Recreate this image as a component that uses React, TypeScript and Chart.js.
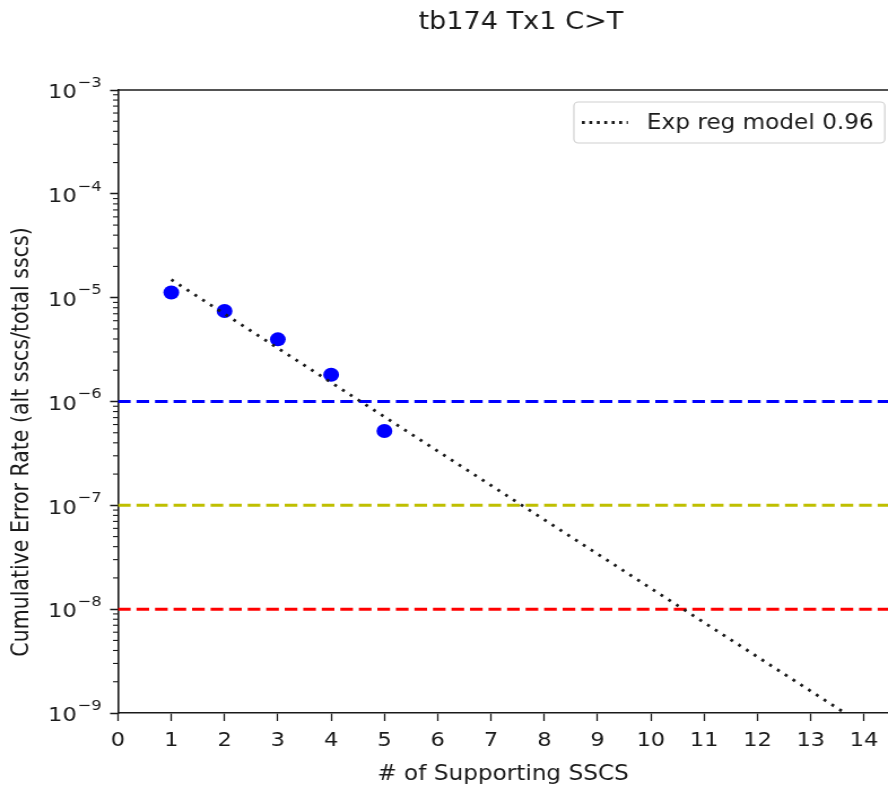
import React, { useEffect, useRef } from 'react';
import { Chart, registerables } from 'chart.js';

Chart.register(...registerables);

// ---- data ----
const supportX = [1, 2, 3, 4, 5];
const errorRate = [1.12e-5, 7.45e-6, 3.97e-6, 1.81e-6, 5.2e-7];
const fitX = [1, 14];
const fitY = [1.49e-5, 7.6e-10];
const thresholdValues = [1e-6, 1e-7, 1e-8];
const thresholdColors = ['#0000ff', '#bfbf00', '#ff0000'];
const xTicks = [0, 1, 2, 3, 4, 5, 6, 7, 8, 9, 10, 11, 12, 13, 14];
const xRange = [0, 14.45];
const yMajorExponents = [-9, -8, -7, -6, -5, -4, -3];
const yMinorMultipliers = [2, 3, 4, 5, 6, 7, 8, 9];
const titleText = 'tb174 Tx1 C>T';
const xLabel = '# of Supporting SSCS';
const yLabel = 'Cumulative Error Rate (alt sscs/total sscs)';
const legendLabel = 'Exp reg model 0.96';

// the reference figure is stretched horizontally; render narrower and stretch with CSS
const VIEW_W = 888;
const VIEW_H = 789;
const SX = 1.13;
const CANVAS_W = Math.round(VIEW_W / SX);

const FAMILY = "'DejaVu Sans', 'Liberation Sans', sans-serif";
const INK = '#1a1a1a';

const overlayPlugin = {
  id: 'overlay',
  afterDraw(chart: any) {
    const { ctx, chartArea, scales } = chart;
    const ys = scales.y;
    ctx.save();

    // top spine
    ctx.strokeStyle = INK;
    ctx.lineWidth = 1.6;
    ctx.beginPath();
    ctx.moveTo(chartArea.left, chartArea.top);
    ctx.lineTo(chartArea.right + 2, chartArea.top);
    ctx.stroke();

    // minor ticks on log axis
    ctx.lineWidth = 1.1;
    for (let i = 0; i < yMajorExponents.length - 1; i++) {
      const base = Math.pow(10, yMajorExponents[i]);
      for (const m of yMinorMultipliers) {
        const py = ys.getPixelForValue(m * base);
        ctx.beginPath();
        ctx.moveTo(chartArea.left - 4.4, py);
        ctx.lineTo(chartArea.left, py);
        ctx.stroke();
      }
    }

    // y tick labels as 10^n
    ctx.fillStyle = INK;
    ctx.textBaseline = 'middle';
    const right = chartArea.left - 14.5;
    for (const e of yMajorExponents) {
      const py = ys.getPixelForValue(Math.pow(10, e));
      const expStr = '\u2212' + String(Math.abs(e));
      ctx.font = `14.5px ${FAMILY}`;
      ctx.textAlign = 'right';
      const ew = ctx.measureText(expStr).width;
      ctx.fillText(expStr, right, py - 7);
      ctx.font = `20px ${FAMILY}`;
      ctx.fillText('10', right - ew - 0.5, py + 3);
    }

    // title
    ctx.font = `24px ${FAMILY}`;
    ctx.textAlign = 'center';
    ctx.textBaseline = 'middle';
    ctx.fillText(titleText, 521 / SX, 23);

    // y label
    ctx.save();
    ctx.translate(22 / SX, 442);
    ctx.rotate(-Math.PI / 2);
    ctx.font = `20.5px ${FAMILY}`;
    ctx.textAlign = 'center';
    ctx.textBaseline = 'middle';
    ctx.fillText(yLabel, 0, 0);
    ctx.restore();

    // legend
    const bx = 574 / SX, by = 102, bw = 311 / SX, bh = 41, r = 4;
    ctx.beginPath();
    ctx.moveTo(bx + r, by);
    ctx.lineTo(bx + bw - r, by);
    ctx.arcTo(bx + bw, by, bx + bw, by + r, r);
    ctx.lineTo(bx + bw, by + bh - r);
    ctx.arcTo(bx + bw, by + bh, bx + bw - r, by + bh, r);
    ctx.lineTo(bx + r, by + bh);
    ctx.arcTo(bx, by + bh, bx, by + bh - r, r);
    ctx.lineTo(bx, by + r);
    ctx.arcTo(bx, by, bx + r, by, r);
    ctx.closePath();
    ctx.fillStyle = 'rgba(255,255,255,0.85)';
    ctx.fill();
    ctx.strokeStyle = '#d0d0d0';
    ctx.lineWidth = 1.2;
    ctx.stroke();

    const fitDs = chart.data.datasets[0];
    ctx.strokeStyle = fitDs.borderColor;
    ctx.lineWidth = fitDs.borderWidth;
    ctx.setLineDash([2.6, 4]);
    ctx.beginPath();
    ctx.moveTo(582 / SX, by + bh / 2);
    ctx.lineTo(628 / SX, by + bh / 2);
    ctx.stroke();
    ctx.setLineDash([]);

    ctx.fillStyle = INK;
    ctx.font = `20.5px ${FAMILY}`;
    ctx.textAlign = 'left';
    ctx.textBaseline = 'middle';
    ctx.fillText(fitDs.label, 647 / SX, by + bh / 2 + 1);

    ctx.restore();
  },
};

export default function App() {
  const ref = useRef<HTMLCanvasElement | null>(null);

  useEffect(() => {
    const canvas = ref.current;
    if (!canvas) return;

    const datasets: any[] = [
      {
        label: legendLabel,
        data: fitX.map((x, i) => ({ x, y: fitY[i] })),
        showLine: true,
        borderColor: '#1a1a1a',
        borderWidth: 2.8,
        borderDash: [2.6, 5.9],
        pointRadius: 0,
        fill: false,
        clip: 0,
        order: 0,
      },
      {
        label: 'data',
        data: supportX.map((x, i) => ({ x, y: errorRate[i] })),
        showLine: false,
        pointRadius: 7,
        pointHoverRadius: 7,
        backgroundColor: '#0000ff',
        borderWidth: 0,
        order: 1,
      },
      ...thresholdValues.map((v, i) => ({
        label: 'threshold ' + v,
        data: [
          { x: xRange[0], y: v },
          { x: xRange[1], y: v },
        ],
        showLine: true,
        borderColor: thresholdColors[i],
        borderWidth: 3,
        borderDash: [11.2, 5.2],
        pointRadius: 0,
        fill: false,
        clip: 0,
        order: 2,
      })),
    ];

    const borderOpts = { display: true, color: INK, width: 1.6 };

    const chart = new Chart(canvas, {
      type: 'scatter',
      data: { datasets },
      options: {
        animation: false,
        responsive: false,
        events: [],
        layout: { autoPadding: false, padding: { top: 90, right: 0, bottom: 0, left: 0 } },
        plugins: {
          legend: { display: false },
          tooltip: { enabled: false },
          title: { display: false },
        },
        scales: {
          x: {
            type: 'linear',
            min: xRange[0],
            max: xRange[1],
            afterBuildTicks: (s: any) => {
              s.ticks = xTicks.map((v) => ({ value: v }));
            },
            afterFit: (s: any) => {
              s.height = 76;
              s.paddingLeft = 0;
              s.paddingRight = 0;
            },
            grid: {
              drawOnChartArea: false,
              drawTicks: true,
              tickLength: 8,
              tickColor: INK,
              tickWidth: 1.3,
            },
            border: borderOpts,
            ticks: {
              font: { family: FAMILY, size: 20 },
              color: INK,
              padding: 8,
              maxRotation: 0,
              autoSkip: false,
            },
            title: {
              display: true,
              text: xLabel,
              font: { family: FAMILY, size: 20.5 },
              color: INK,
              padding: { top: 0, bottom: 2 },
            },
          },
          y: {
            type: 'logarithmic',
            min: Math.pow(10, yMajorExponents[0]),
            max: Math.pow(10, yMajorExponents[yMajorExponents.length - 1]),
            afterBuildTicks: (s: any) => {
              s.ticks = yMajorExponents.map((e) => ({ value: Math.pow(10, e) }));
            },
            afterFit: (s: any) => {
              s.width = 118 / SX;
              s.paddingTop = 0;
              s.paddingBottom = 0;
            },
            grid: {
              drawOnChartArea: false,
              drawTicks: true,
              tickLength: 7,
              tickColor: INK,
              tickWidth: 1.5,
            },
            border: borderOpts,
            ticks: { display: false },
          },
        },
      } as any,
      plugins: [overlayPlugin],
    });

    return () => chart.destroy();
  }, []);

  return (
    <div
      style={{
        position: 'fixed',
        left: 0,
        top: 0,
        width: VIEW_W,
        height: VIEW_H,
        background: '#fff',
        overflow: 'hidden',
      }}
    >
      <canvas
        ref={ref}
        width={CANVAS_W}
        height={VIEW_H}
        style={{ width: VIEW_W, height: VIEW_H, display: 'block' }}
      />
    </div>
  );
}
